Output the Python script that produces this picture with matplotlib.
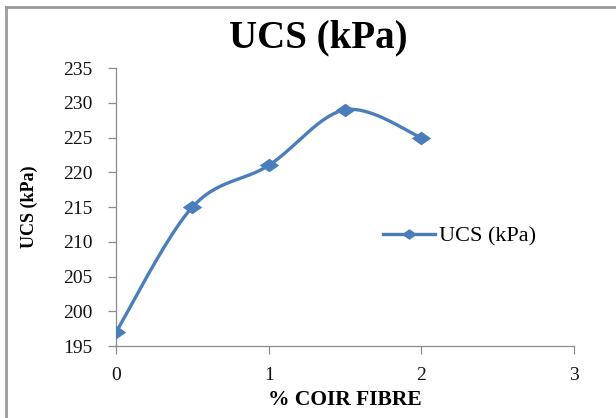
import numpy as np
import matplotlib
matplotlib.use("Agg")
import matplotlib.pyplot as plt
from matplotlib.lines import Line2D

# Data
coir_fibre = [0, 0.5, 1, 1.5, 2]
ucs_kpa = [197, 215, 221, 229, 225]
y_ticks = [195, 200, 205, 210, 215, 220, 225, 230, 235]
x_ticks = [0, 1, 2, 3]

LINE_COLOR = "#4A7EBB"
AXIS_COLOR = "#8C8C8C"
SERIF = ["Liberation Serif", "DejaVu Serif"]
# slightly wide diamond marker
DIAMOND = [(-1, 0), (0, 0.7), (1, 0), (0, -0.7), (-1, 0)]


def smooth_curve(x, y, n=40):
    """Cubic Bezier smoothing through the points (Catmull-Rom style)."""
    x = np.asarray(x, float)
    y = np.asarray(y, float)
    px, py = [], []
    for i in range(len(x) - 1):
        x0, y0 = (x[i - 1], y[i - 1]) if i > 0 else (x[i], y[i])
        x3, y3 = (x[i + 2], y[i + 2]) if i + 2 < len(x) else (x[i + 1], y[i + 1])
        x1, y1 = x[i], y[i]
        x2, y2 = x[i + 1], y[i + 1]
        c1x = x1 + (x2 - x0) / 6.0
        c1y = y1 + (y2 - y0) / 6.0
        c2x = x2 - (x3 - x1) / 6.0
        c2y = y2 - (y3 - y1) / 6.0
        t = np.linspace(0, 1, n)
        bx = (1 - t) ** 3 * x1 + 3 * (1 - t) ** 2 * t * c1x + 3 * (1 - t) * t ** 2 * c2x + t ** 3 * x2
        by = (1 - t) ** 3 * y1 + 3 * (1 - t) ** 2 * t * c1y + 3 * (1 - t) * t ** 2 * c2y + t ** 3 * y2
        px.extend(bx)
        py.extend(by)
    return np.array(px), np.array(py)


fig = plt.figure(figsize=(6.16, 4.18), dpi=100)
ax = fig.add_axes([0.1883, 0.172, 0.7435, 0.665])

sx, sy = smooth_curve(coir_fibre, ucs_kpa)
ax.plot(sx, sy, color=LINE_COLOR, lw=2.4, solid_capstyle="round", zorder=3)
ax.plot(coir_fibre, ucs_kpa, linestyle="none", marker=DIAMOND, markersize=14,
        color=LINE_COLOR, markeredgewidth=0, zorder=4)

ax.set_xlim(0, 3)
ax.set_ylim(195, 235)
ax.set_xticks(x_ticks)
ax.set_yticks(y_ticks)
ax.set_xticklabels([str(v) for v in x_ticks], fontfamily=SERIF, fontsize=14)
ax.set_yticklabels([str(v) for v in y_ticks], fontfamily=SERIF, fontsize=14)

for side in ("top", "right"):
    ax.spines[side].set_visible(False)
for side in ("left", "bottom"):
    ax.spines[side].set_color(AXIS_COLOR)
    ax.spines[side].set_linewidth(0.9)
ax.tick_params(axis="both", direction="out", length=6, width=0.9,
               color=AXIS_COLOR, labelcolor="#111111")
ax.tick_params(axis="x", pad=9)
ax.tick_params(axis="y", pad=11)

ax.set_xlabel("% COIR FIBRE", fontfamily=SERIF, fontsize=15.5,
              fontweight="bold", va="center")
ax.xaxis.set_label_coords(0.499, -0.194)
ax.set_ylabel("UCS (kPa)", fontfamily=SERIF, fontsize=13,
              fontweight="bold", va="center")
ax.yaxis.set_label_coords(-0.19, 0.5)
fig.text(0.516, 0.909, "UCS (kPa)", ha="center", va="center",
         fontfamily=SERIF, fontsize=28, fontweight="bold")

handle = Line2D([], [], color=LINE_COLOR, lw=2.4, marker=DIAMOND,
                markersize=11, markeredgewidth=0)
ax.legend([handle], ["UCS (kPa)"], loc="center left",
          bbox_to_anchor=(0.584, 0.396), frameon=False,
          prop={"family": SERIF, "size": 16}, handlelength=2.3,
          handletextpad=0.2, borderaxespad=0, borderpad=0)

# Chart-area frame
fig.add_artist(Line2D([6 / 616, 6 / 616], [0, 1 - 7 / 418],
                      transform=fig.transFigure, color="#9A9A9A", lw=2))
fig.add_artist(Line2D([6 / 616, 1], [1 - 7 / 418, 1 - 7 / 418],
                      transform=fig.transFigure, color="#9A9A9A", lw=2))

fig.savefig("out.png", dpi=100)
